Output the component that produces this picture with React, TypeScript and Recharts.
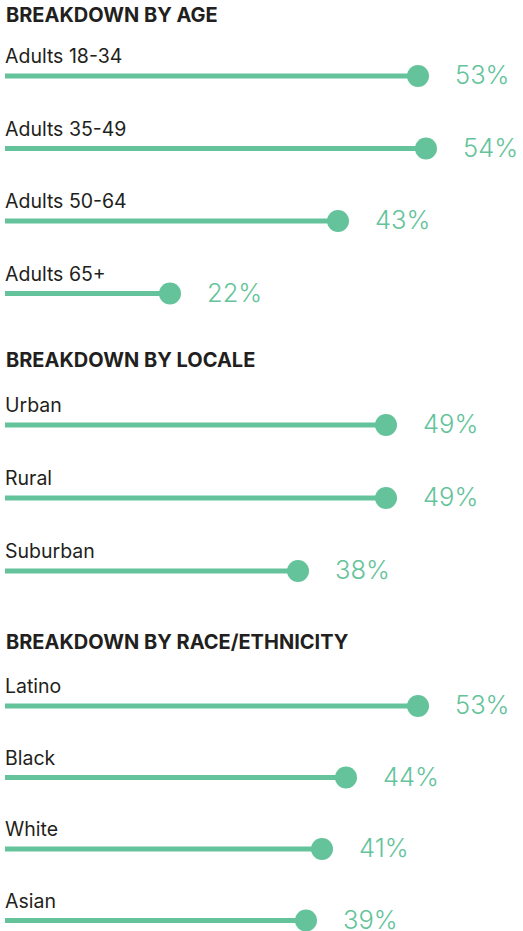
import { BarChart, Bar, XAxis, YAxis } from "recharts";

const GREEN = "#64c39a";
const DARK = "#231f20";
const FONT = "Inter, 'Open Sans', sans-serif";

// section titles
const sectionTitles = ["BREAKDOWN BY AGE", "BREAKDOWN BY LOCALE", "BREAKDOWN BY RACE/ETHNICITY"];

// age breakdown
const ageGroups = ["Adults 18-34", "Adults 35-49", "Adults 50-64", "Adults 65+"];
const ageValues = [53, 54, 43, 22];

// locale breakdown
const locales = ["Urban", "Rural", "Suburban"];
const localeValues = [49, 49, 38];

// race / ethnicity breakdown
const races = ["Latino", "Black", "White", "Asian"];
const raceValues = [53, 44, 41, 39];

const toRows = (names: string[], values: number[]) =>
  names.map((name, i) => ({ name, value: values[i] }));

// lollipop: thin line from the left edge, dot at the value, labels around it
function Lollipop(props: any) {
  const { x, y, width, height, payload, value } = props;
  const cy = y + height / 2;
  const start = x + 11;
  const end = x + width;
  return (
    <g>
      <text x={start} y={cy - 13} fill={DARK} fontSize={19.5} fontFamily={FONT} fontWeight={400}>
        {payload.name}
      </text>
      <line x1={start} x2={end} y1={cy} y2={cy} stroke={GREEN} strokeWidth={5} />
      <circle cx={end} cy={cy} r={11} fill={GREEN} />
      <text x={end + 37} y={cy + 8} fill={GREEN} fontSize={25.5} fontFamily={FONT} fontWeight={300}>
        {value}%
      </text>
    </g>
  );
}

function Section({ rows, top, rowHeight }: { rows: { name: string; value: number }[]; top: number; rowHeight: number }) {
  return (
    <div style={{ position: "absolute", left: -6, top }}>
      <BarChart
        width={529}
        height={rows.length * rowHeight}
        data={rows}
        layout="vertical"
        margin={{ top: 0, right: 0, bottom: 0, left: 0 }}
        barSize={6}
      >
        <XAxis type="number" domain={[0, 66.125]} hide />
        <YAxis type="category" dataKey="name" hide />
        <Bar dataKey="value" shape={<Lollipop />} isAnimationActive={false} />
      </BarChart>
    </div>
  );
}

export default function App() {
  return (
    <div style={{ position: "absolute", left: 0, top: 0, width: 523, height: 931, background: "#fff", overflow: "hidden" }}>
      <svg width={523} height={931} style={{ position: "absolute", left: 0, top: 0 }}>
        {sectionTitles.map((t, i) => (
          <text
            key={t}
            x={6}
            y={[22, 367, 649][i]}
            fill={DARK}
            fontSize={20}
            fontWeight={700}
            fontFamily={FONT}
          >
            {t}
          </text>
        ))}
      </svg>
      <Section rows={toRows(ageGroups, ageValues)} top={40} rowHeight={72.5} />
      <Section rows={toRows(locales, localeValues)} top={387.5} rowHeight={73} />
      <Section rows={toRows(races, raceValues)} top={670} rowHeight={71.5} />
    </div>
  );
}
